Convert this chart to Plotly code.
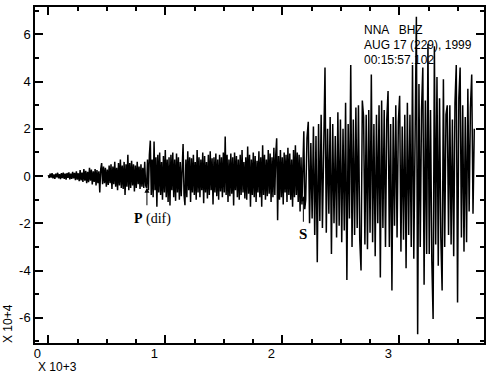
import numpy as np
import plotly.graph_objects as go

# Seismogram NNA BHZ, amplitudes in units of 10^4, time in units of 10^3 s
# segment A: pre-P noise (start 0.0, sample step 0.008)
seg_a = [0.04, -0.08, 0.1, -0.06, 0.12, -0.1, 0.07, -0.12, 0.1, -0.05,
         0.14, -0.1, 0.08, -0.13, 0.12, -0.09, 0.15, -0.12, 0.1, -0.15,
         0.13, -0.08, 0.16, -0.14, 0.1, -0.12, 0.18, -0.1, 0.14, -0.17,
         0.2, -0.15, 0.12, -0.22, 0.25, -0.18, 0.15, -0.25, 0.3, -0.2,
         0.22, -0.3, 0.18, -0.26, 0.35, -0.2, 0.28, -0.35, 0.2, -0.25,
         0.3, -0.4, 0.25, -0.3, 0.2, -0.7, 0.3, 0.55, -0.35, 0.4,
         -0.3, 0.35, -0.45, 0.28, -0.38, 0.45, -0.3, 0.5, -0.55, 0.4,
         -0.35, 0.6, -0.45, 0.35, -0.6, 0.55, -0.4, 0.7, -0.5, 0.45,
         -0.55, 0.6, -0.8, 0.5, -0.45, 0.9, -0.6, 0.55, -0.5, 0.65,
         -0.4, 0.5, -0.65, 0.45, -0.5, 0.6, -0.35, 0.4, -0.55, 0.5,
         -0.45, 0.35, -0.5, 0.6, -0.4]
# segment B: P(dif) coda (start 0.84, sample step 0.008)
seg_b = [-0.5, 0.7, -0.6, 0.9, 1.5, -0.8, 0.7, -0.9, 1.46, -0.6,
         0.8, -1.3, 0.9, -0.7, 1.0, -0.8, 0.6, -1.0, 0.85, -0.7,
         1.1, -0.9, 0.7, -1.1, 0.8, -1.25, 0.9, -0.6, 1.0, -0.9,
         0.7, -1.05, 0.95, -0.7, 0.8, -1.0, 0.6, -0.85, 0.9, 1.36,
         -0.8, -1.23, 0.7, -0.9, 1.05, -0.6, 0.8, -1.1, 0.75, -0.7,
         0.9, -0.8, 0.6, -1.0, 1.1, -0.7, 0.8, -0.9, 0.7, -0.6,
         1.0, -1.15, 0.85, -0.7, 0.6, -0.95, 0.9, -0.8, 1.05, -0.6,
         0.75, -1.2, 0.8, -0.7, 0.95, -0.85, 0.7, -1.0, 0.9, -0.65,
         0.8, -0.9, 1.0, -0.7, 1.67, -0.8, 0.9, -1.1, 0.7, -0.85,
         0.95, -0.75, 0.8, -1.25, 1.0, -0.6, 0.85, -0.9, 0.7, -1.0,
         0.9, -0.8, 1.1, -0.7, 0.6, -0.95, 0.8, -1.0, 1.25, -0.75,
         0.9, -1.3, 0.7, -0.8, 1.0, -0.9, 0.85, -1.1, 0.65, -0.7,
         1.05, -0.9, 0.8, -1.3, 1.3, -0.8, 0.9, -1.0, 0.7, -0.85,
         1.1, -0.75, 0.95, -1.1, 0.8, -0.9, 1.2, -0.8, 0.9, 1.6,
         -1.87, 0.85, -1.0, 1.1, -0.9, 0.8, -1.2, 1.0, -0.7, 0.9,
         -1.1, 1.2, -0.8, 0.95, -1.0, 0.7, -1.3, 1.1, -0.9, 1.3,
         -0.8, 1.0, -1.1, 0.9, -1.5, 0.8, -1.2, 1.1, 1.9, -1.4]
# segment C: S and later arrivals (start 2.2, sample step 0.011)
seg_c = [-1.0, 1.6, 2.3, -2.0, 1.4, -1.8, 2.1, -2.5, 1.7, -3.65,
         2.2, -1.9, 2.6, -2.2, 1.8, 4.6, -2.4, 2.0, -1.6, 2.5,
         -3.3, 2.2, -2.0, 1.7, -2.6, 2.7, -2.1, 2.4, -2.8, 2.0,
         -2.3, 3.1, -4.4, 2.2, -1.8, 4.7, -3.0, 2.4, -2.5, 2.9,
         -2.2, 3.0, -2.7, -4.0, 3.2, 2.5, -2.9, 2.6, -3.1, 2.8,
         -2.4, 4.3, -2.8, 2.2, -3.4, 2.6, -2.0, 3.0, -4.3, 3.2,
         -2.2, 2.8, -3.0, 2.4, 3.6, -3.0, 2.2, -4.85, 2.5, -2.1,
         3.0, -2.6, 2.3, 3.4, -3.2, 2.1, -2.7, 2.6, -3.9, 3.1,
         -2.5, 2.6, -3.0, 4.7, -3.5, 2.9, 6.75, -6.7, 3.9, -3.0,
         2.8, 4.6, -4.6, 3.2, -3.3, 5.6, -3.3, 2.8, -3.6, -6.05,
         5.5, -2.9, 4.2, -3.8, 3.3, -2.6, -4.85, 4.1, -3.0, 2.6,
         3.0, -2.5, 3.0, -2.9, 2.4, -3.4, 3.1, 4.7, -5.35, 3.3,
         4.6, -2.6, 3.0, -3.2, 2.5, -2.8, 3.7, -1.5, 2.9, 4.3,
         -1.6, 2.0]

seg_starts = [0.0, 0.84, 2.2]
seg_steps = [0.008, 0.008, 0.011]

x_tickvals = [0, 1, 2, 3]
x_ticktext = ["0", "1", "2", "3"]
y_tickvals = [-6, -4, -2, 0, 2, 4, 6]
y_ticktext = ["-6", "-4", "-2", "0", "2", "4", "6"]

header_lines = ["NNA   BHZ", "AUG 17 (229), 1999", "00:15:57.102"]

t_parts, v_parts = [], []
for seg, t0, dt in zip([seg_a, seg_b, seg_c], seg_starts, seg_steps):
    t_parts.append(t0 + dt * np.arange(len(seg)))
    v_parts.append(np.array(seg))
t = np.concatenate(t_parts)
v = np.concatenate(v_parts)

W, H = 499, 379
L, R, T, B = 35, 15, 7, 36
pw, ph = W - L - R, H - T - B


def px_to_paper(px, py):
    return (px - L) / pw, (H - B - py) / ph


fig = go.Figure()
fig.add_trace(go.Scatter(x=t, y=v, mode="lines",
                         line=dict(color="black", width=1.5), showlegend=False))

tickfont = dict(family="Liberation Sans, DejaVu Sans", size=13, color="black")

fig.update_xaxes(range=[-0.1137, 3.724], showgrid=False, zeroline=False, automargin=False,
                 showline=True, linecolor="black", linewidth=1.5, mirror="ticks",
                 ticks="inside", ticklen=8, tickwidth=1.5, tickcolor="black",
                 tickvals=x_tickvals, ticktext=x_ticktext, tickfont=tickfont,
                 ticklabelshift=-11, ticklabelstandoff=-2,
                 minor=dict(dtick=0.25, tick0=0, ticks="inside", ticklen=4,
                            tickwidth=1.5, tickcolor="black", showgrid=False))
fig.update_yaxes(range=[-7.07, 7.16], showgrid=False, zeroline=False, automargin=False,
                 showline=True, linecolor="black", linewidth=1.5, mirror="ticks",
                 ticks="inside", ticklen=8, tickwidth=1.5, tickcolor="black",
                 tickvals=y_tickvals, ticktext=y_ticktext, tickfont=tickfont,
                 minor=dict(dtick=1, tick0=0, ticks="inside", ticklen=4,
                            tickwidth=1.5, tickcolor="black", showgrid=False))

layout_annots = []
for i, line in enumerate(header_lines):
    xp, yp = px_to_paper(362, 30 + 14.8 * i)
    layout_annots.append(dict(x=xp, y=yp, xref="paper", yref="paper", text=line,
                              showarrow=False, xanchor="left", yanchor="middle",
                              font=dict(family="Liberation Sans", size=12, color="black")))

xp, yp = px_to_paper(36, 367)
layout_annots.append(dict(x=xp, y=yp, xref="paper", yref="paper", text="X 10+3",
                          showarrow=False, xanchor="left", yanchor="middle",
                          font=dict(family="Liberation Sans", size=12, color="black")))
xp, yp = px_to_paper(8, 324)
layout_annots.append(dict(x=xp, y=yp, xref="paper", yref="paper", text="X 10+4",
                          showarrow=False, xanchor="center", yanchor="middle", textangle=-90,
                          font=dict(family="Liberation Sans", size=12, color="black")))

# phase arrows
layout_annots.append(dict(x=0.843, y=-0.5, ax=0.843, ay=-1.3, xref="x", yref="y",
                          axref="x", ayref="y", text="", showarrow=True, arrowhead=2,
                          arrowsize=1, arrowwidth=1, arrowcolor="black"))
layout_annots.append(dict(x=2.18, y=-0.85, ax=2.18, ay=-2.0, xref="x", yref="y",
                          axref="x", ayref="y", text="", showarrow=True, arrowhead=2,
                          arrowsize=1, arrowwidth=1, arrowcolor="black"))
layout_annots.append(dict(x=0.716, y=-1.83, xref="x", yref="y", text="<b>P</b> (dif)",
                          showarrow=False, xanchor="left", yanchor="middle",
                          font=dict(family="Liberation Serif", size=14, color="black")))
layout_annots.append(dict(x=2.18, y=-2.47, xref="x", yref="y", text="<b>S</b>",
                          showarrow=False, xanchor="center", yanchor="middle",
                          font=dict(family="Liberation Serif", size=15, color="black")))

fig.update_layout(width=W, height=H, autosize=False,
                  margin=dict(l=L, r=R, t=T, b=B),
                  paper_bgcolor="white", plot_bgcolor="white",
                  annotations=layout_annots)

fig.write_html("out.html", config={"displayModeBar": False},
               post_script="document.body.style.margin='0';")
